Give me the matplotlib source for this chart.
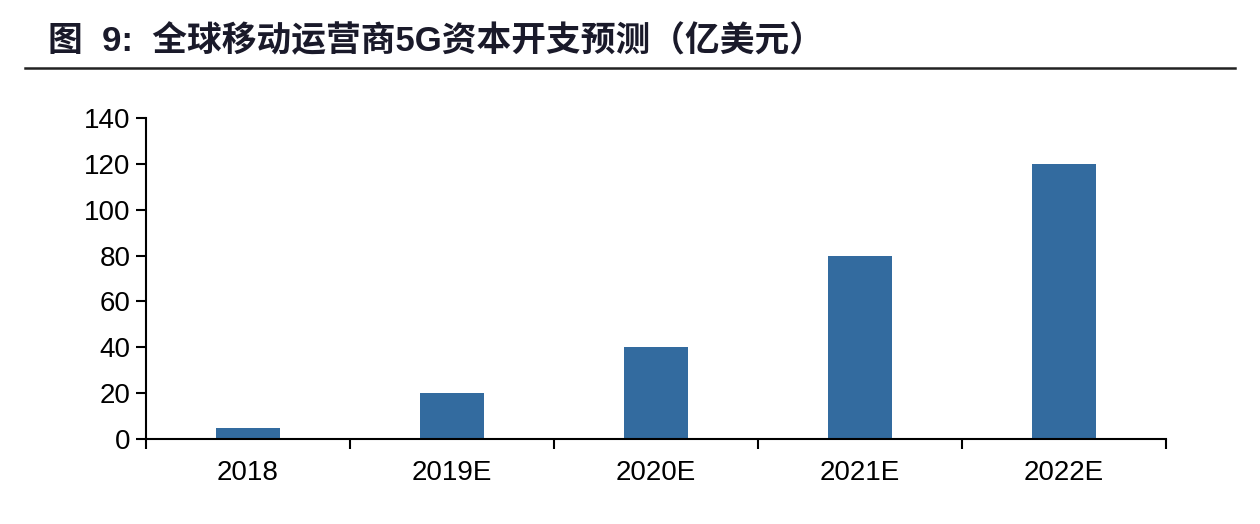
import matplotlib
matplotlib.use("Agg")
from matplotlib import pyplot as plt
from matplotlib.lines import Line2D

# data
categories = ["2018", "2019E", "2020E", "2021E", "2022E"]
capex = [5, 20, 40, 80, 120]

plt.rcParams['font.family'] = ['Liberation Sans', 'Noto Sans CJK SC']

fig = plt.figure(figsize=(12.6, 5.24), dpi=100)
ax = fig.add_axes([146/1260, 1-439/524, 1020/1260, 321/524])

x = list(range(len(categories)))
ax.bar(x, capex, width=0.31, color="#336b9f")

ax.set_xlim(-0.5, len(categories) - 0.5)
ax.set_ylim(0, 140)
ax.set_yticks(range(0, 141, 20))
ax.set_xticks(x)
ax.set_xticklabels(categories)
ax.set_xticks([i - 0.5 for i in range(len(categories) + 1)], minor=True)
ax.tick_params(axis='x', which='major', length=0, labelsize=20, pad=15)
ax.tick_params(axis='x', which='minor', length=7, width=1.5, direction='out')
ax.tick_params(axis='y', length=7, width=1.5, direction='out', labelsize=20, pad=4)

for s in ["top", "right"]:
    ax.spines[s].set_visible(False)
for s in ["left", "bottom"]:
    ax.spines[s].set_linewidth(1.5)

fig.text(48/1260, 1-41/524, "图  9:  全球移动运营商5G资本开支预测（亿美元）",
         fontsize=25, fontweight='bold', color="#1a1a2a", va='center', ha='left')
fig.add_artist(Line2D([25/1260, 1235/1260], [1-68/524, 1-68/524],
                      transform=fig.transFigure, color="#222222", linewidth=1.8))

fig.savefig("out.png", dpi=100)
